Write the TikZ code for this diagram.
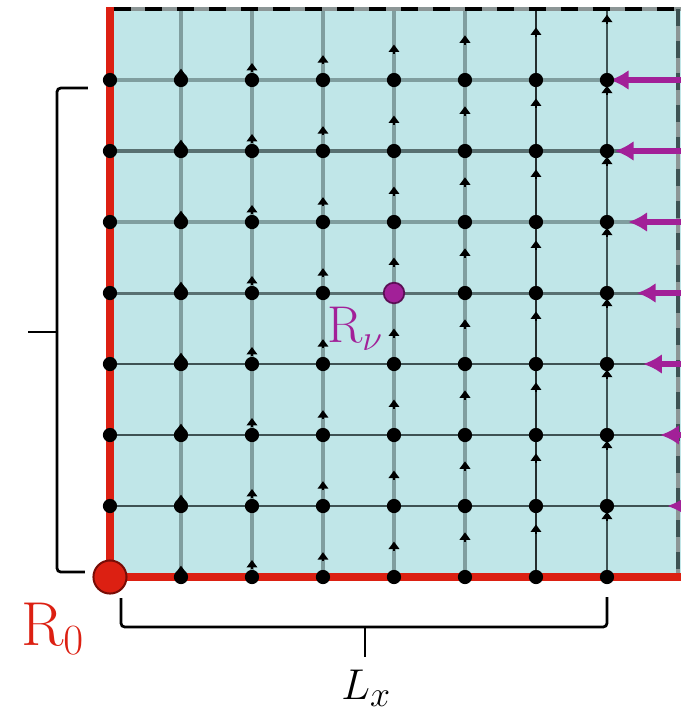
\documentclass[tikz,border=0pt]{standalone}
\usetikzlibrary{arrows.meta}
\definecolor{fillc}{RGB}{192,230,232}
\definecolor{redc}{RGB}{220,32,18}
\definecolor{redborder}{RGB}{120,12,6}
\definecolor{magc}{RGB}{162,32,152}
\definecolor{magborder}{RGB}{90,15,85}
\definecolor{gridlight}{RGB}{128,158,159}
\definecolor{gridmid}{RGB}{88,112,113}
\definecolor{griddark}{RGB}{62,82,83}
\definecolor{gridblack}{RGB}{35,45,46}
\definecolor{edgegray}{RGB}{140,150,150}
\begin{document}
\begin{tikzpicture}[x=1cm,y=1cm,
  dot/.style={circle,fill=black,inner sep=0pt,minimum size=0.2cm},
  flow/.style={-{Triangle[length=3pt,width=4.2pt]},black,line width=0.8pt},
  push/.style={-{Latex[length=7.5pt,width=8pt]},magc,line width=2.1pt},
  rededge/.style={redc,line width=3.4pt},
  brk/.style={black,line width=1.1pt,rounded corners=1.5pt},
  lbl/.style={anchor=base west,inner sep=0pt,outer sep=0pt},
]
\useasboundingbox (-1.549,-1.873) rectangle (8.042,8.127);
\fill[fillc] (0,0) rectangle (8.2,8);
% boundary coordinates
\foreach \i in {0,...,8} {
  \coordinate (b\i) at (\i,0);
  \coordinate (t\i) at (\i,8);
  \coordinate (l\i) at (0,\i);
  \coordinate (r\i) at (8,\i);
}
\coordinate (bx) at (8.2,0);
% vertical grid lines
\foreach \i/\c/\w in {1/gridlight/1.4pt,2/gridlight/1.4pt,3/gridlight/1.4pt,4/gridlight/1.4pt,5/gridlight/1.4pt,6/gridblack/1.0pt,7/griddark/1.0pt} {
  \draw[\c,line width=\w] (b\i) -- (t\i);
}
% horizontal grid lines
\foreach \j/\c/\w in {1/griddark/1.1pt,2/griddark/1.1pt,3/griddark/1.1pt,4/gridmid/1.2pt,5/gridlight/1.5pt,6/gridmid/1.3pt,7/gridlight/1.6pt} {
  \draw[\c,line width=\w] (l\j) -- (r\j);
}
% dashed top and right edges
\draw[edgegray,line width=1.6pt] (t0) -- (8.2,8);
\draw[black,line width=1.6pt,dash pattern=on 6.8pt off 6pt] (0.05,8) -- (8.2,8);
\draw[edgegray,line width=1.6pt] (r0) -- (t8);
\draw[griddark,line width=1.6pt,dash pattern=on 6.8pt off 6pt] (t8) -- (r0);
% red boundaries
\draw[rededge] (0,8.03) -- (b0) -- (bx);
% grid points
\foreach \i in {0,...,7} {
  \foreach \j in {0,...,7} {
    \coordinate (p-\i-\j) at (\i,\j);
  }
}
% small flow arrows
\foreach \i/\v in {1/0.16,2/0.24,3/0.35,4/0.5,5/0.63,6/0.74,7/0.92} {
  \foreach \j in {0,...,7} {
    \draw[flow] ([yshift=\v cm-0.13cm]p-\i-\j) -- ([yshift=\v cm]p-\i-\j);
  }
}
% magenta arrows
\foreach \j/\t in {7/7.04,6/7.11,5/7.30,4/7.42,3/7.51,2/7.75,1/7.85} {
  \coordinate (mt\j) at (\t,\j);
  \coordinate (ms\j) at (8.4,\j);
  \draw[push] (ms\j) -- (mt\j);
}
% dots
\foreach \i in {0,...,7} {
  \foreach \j in {0,...,7} {
    \node[dot] (n-\i-\j) at (p-\i-\j) {};
  }
}
% special points
\node[circle,fill=redc,draw=redborder,line width=0.8pt,inner sep=0pt,minimum size=0.466cm] (R0) at (p-0-0) {};
\node[circle,fill=magc,draw=magborder,line width=0.7pt,inner sep=0pt,minimum size=0.29cm] (Rv) at (p-4-4) {};
% labels
\node[lbl,text=redc,font=\fontsize{25}{30}\selectfont] (R0lbl) at (-1.25,-0.958) {$\mathrm{R}_0$};
\node[lbl,text=magc,font=\fontsize{21}{25}\selectfont] (Rvlbl) at (3.06,3.296) {$\mathrm{R}_\nu$};
\node[lbl,font=\fontsize{19}{23}\selectfont] (Lx) at (3.26,-1.732) {$L_x$};
% left brace
\coordinate (lb1) at (-0.31,6.887);
\coordinate (lb2) at (-0.746,6.887);
\coordinate (lb3) at (-0.746,0.07);
\coordinate (lb4) at (-0.352,0.07);
\coordinate (lbm) at (-0.746,3.451);
\coordinate (lbt) at (-1.155,3.451);
\draw[brk] (lb1) -- (lb2) -- (lb3) -- (lb4);
\draw[black,line width=1.1pt] (lbm) -- (lbt);
% bottom brace
\coordinate (bb1) at (0.155,-0.296);
\coordinate (bb2) at (0.155,-0.704);
\coordinate (bb3) at (7.0,-0.704);
\coordinate (bb4) at (7.0,-0.282);
\coordinate (bbm) at (3.592,-0.704);
\coordinate (bbt) at (3.592,-1.127);
\draw[brk] (bb1) -- (bb2) -- (bb3) -- (bb4);
\draw[black,line width=1.1pt] (bbm) -- (bbt);
\end{tikzpicture}
\end{document}
